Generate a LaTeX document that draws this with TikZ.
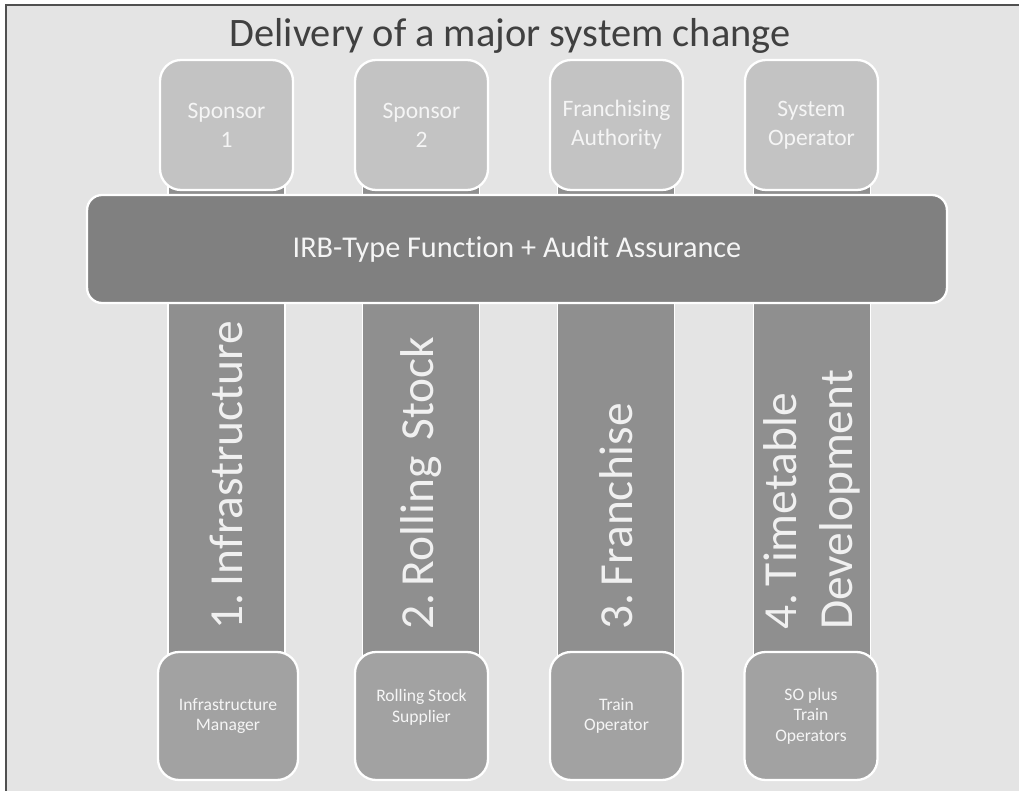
\documentclass[tikz,border=0pt]{standalone}
\usepackage{fontspec}
\setmainfont{Carlito}[Ligatures={NoCommon}]
\usetikzlibrary{positioning}

\definecolor{pagegray}{HTML}{E4E4E4}
\definecolor{framegray}{HTML}{505050}
\definecolor{titlegray}{HTML}{404040}
\definecolor{topgray}{HTML}{C3C3C3}
\definecolor{irbgray}{HTML}{808080}
\definecolor{bargray}{HTML}{8F8F8F}
\definecolor{botgray}{HTML}{A2A2A2}

\tikzset{
  topbox/.style = {draw=white, line width=1.3pt, fill=topgray, rounded corners=0.42cm,
    minimum width=2.66cm, minimum height=2.6cm, align=center, text=white!96!black,
    font=\fontsize{13.4}{16.4}\selectfont},
  botbox/.style = {draw=white, line width=1.3pt, fill=botgray, rounded corners=0.42cm,
    minimum width=2.66cm, minimum height=2.56cm, align=center, text=white!96!black,
    font=\fontsize{10}{11.6}\selectfont},
  irbbox/.style = {draw=white, line width=1.3pt, fill=irbgray, rounded corners=0.3cm,
    minimum width=17.2cm, minimum height=2.16cm, text=white!96!black,
    font=\fontsize{17.2}{20}\selectfont},
  barbox/.style = {draw=white, line width=0.8pt, fill=bargray, rotate=90,
    text width=8.3cm, inner xsep=0.6cm, minimum height=2.34cm, align=left,
    text=white!94!black, font=\fontsize{27}{31.7}\selectfont}
}

\begin{document}
\begin{tikzpicture}[x=0.02cm, y=-0.02cm]
    \useasboundingbox (0,0) rectangle (1019,791);
    \fill[pagegray] (6,5) rectangle (1019,791);
    \draw[framegray, line width=1.5pt] (6,791) -- (6,5) -- (1019,5);

    \node[anchor=base, text=titlegray, font=\fontsize{23}{27}\selectfont] (title) at (510,47) {Delivery of a major system change};

    % columns
    \node[barbox] (infra) at (226.5,422.5) {1.\,Infrastructure};
    \node[barbox] (stock) at (421,422.5) {2.\,Rolling Stock};
    \node[barbox] (franch) at (616,422.5) {3.\,Franchise};
    \node[barbox] (timet) at (812,422.5) {4.\,Timetable\\Development};

    \node[irbbox] (irb) at (517,249) {IRB-Type Function + Audit Assurance};

    % sponsors
    \node[topbox] (spon1) at (226.5,125) {Sponsor\\1};
    \node[topbox] (spon2) at (421.5,125) {Sponsor\\2};
    \node[topbox] (franauth) at (616.5,125) {Franchising\\Authority};
    \node[topbox] (sysop) at (811.5,125) {System\\Operator};

    % delivery bodies
    \node[botbox, minimum width=2.8cm] (infman) at (228,716) {Infrastructure\\Manager};
    \node[botbox] (stocksup) at (421.5,716) {Rolling Stock\\Supplier\\~};
    \node[botbox] (trainop) at (616.5,716) {Train\\Operator};
    \node[botbox] (soplus) at (811,716) {SO plus\\Train\\Operators};
\end{tikzpicture}
\end{document}
